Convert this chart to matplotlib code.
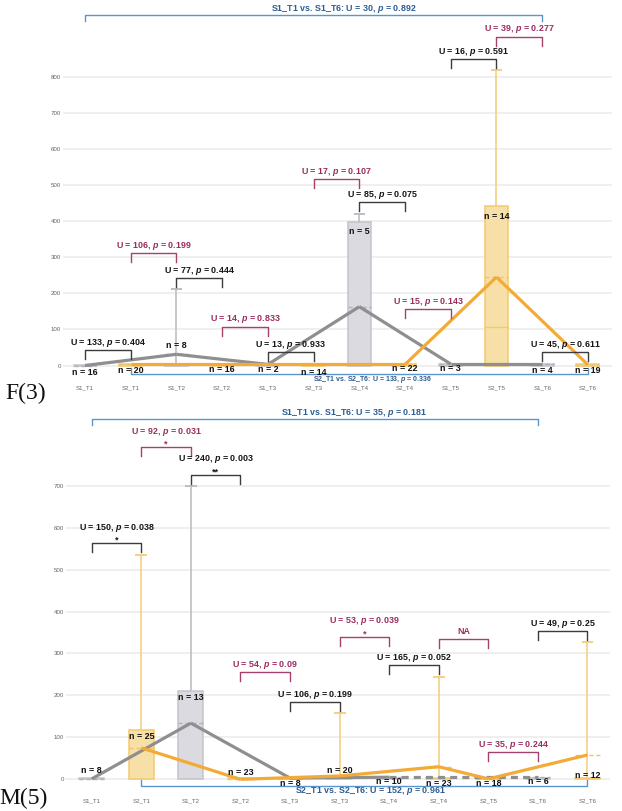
import matplotlib
matplotlib.use('Agg')
import matplotlib.pyplot as plt
import numpy as np

plt.rcParams['font.family'] = ['Liberation Sans', 'DejaVu Sans']
plt.rcParams['mathtext.fontset'] = 'custom'
plt.rcParams['mathtext.it'] = 'Liberation Sans:italic:bold'
plt.rcParams['mathtext.rm'] = 'Liberation Sans:bold'
plt.rcParams['mathtext.bf'] = 'Liberation Sans:bold'

NaN = np.nan

# ---------------- Panel F(3) data ----------------
f_cats = ['S1_T1', 'S2_T1', 'S1_T2', 'S2_T2', 'S1_T3', 'S2_T3',
          'S1_T4', 'S2_T4', 'S1_T5', 'S2_T5', 'S1_T6', 'S2_T6']
f_n = [16, 20, 8, 16, 2, 14, 5, 22, 3, 14, 4, 19]
f_q1 = [0, 0, 0, 0, 0, 0, 0, 0, 0, 0, 0, 0]
f_median = [0, 0, 0, 0, 0, 0, 0, 0, 0, 107, 0, 0]
f_q3 = [2, 3, 2, 3, 2, 3, 397, 3, 5, 442, 5, 3]
f_mean = [0, 3, 31, 3, 3, 3, 163, 3, 4, 245, 4, 2]
f_whisker = [NaN, NaN, 212, NaN, NaN, NaN, 419, NaN, NaN, 818, NaN, NaN]

# ---------------- Panel M(5) data ----------------
m_cats = ['S1_T1', 'S2_T1', 'S1_T2', 'S2_T2', 'S1_T3', 'S2_T3',
          'S1_T4', 'S2_T4', 'S2_T5', 'S1_T6', 'S2_T6']
m_n = [8, 25, 13, 23, 8, 20, 10, 23, 18, 6, 12]
m_q1 = [0, 0, 0, 0, 0, 0, 0, 0, 0, 0, 0]
m_median = [0, 0, 0, 0, 0, 0, 0, 0, 0, 0, 0]
m_q3 = [3, 117, 211, 2, 2, 3, 3, 3, 3, 3, 3]
m_mean = [1, 75, 134, 0, 3, 8, 5, 30, 1, 5, 58]
m_whisker = [NaN, 535, 700, NaN, NaN, 159, NaN, 245, NaN, NaN, 328]

# comparison results: (left idx, right idx, U, p, stars, kind)
f_tests = [
    (0, 1, '133', '0.404', '', 'k'),
    (1, 2, '106', '0.199', '', 'm'),
    (2, 3, '77', '0.444', '', 'k'),
    (3, 4, '14', '0.833', '', 'm'),
    (4, 5, '13', '0.933', '', 'k'),
    (5, 6, '17', '0.107', '', 'm'),
    (6, 7, '85', '0.075', '', 'k'),
    (7, 8, '15', '0.143', '', 'm'),
    (8, 9, '16', '0.591', '', 'k'),
    (9, 10, '39', '0.277', '', 'm'),
    (10, 11, '45', '0.611', '', 'k'),
]
f_bracket_y = [43, 311, 243, 107.5, 38, 516, 452, 156, 848, 911, 36.5]

m_tests = [
    (0, 1, '150', '0.038', '*', 'k'),
    (1, 2, '92', '0.031', '*', 'm'),
    (2, 3, '240', '0.003', '**', 'k'),
    (3, 4, '54', '0.09', '', 'm'),
    (4, 5, '106', '0.199', '', 'k'),
    (5, 6, '53', '0.039', '*', 'm'),
    (6, 7, '165', '0.052', '', 'k'),
    (7, 8, None, None, '', 'm'),
    (8, 9, '35', '0.244', '', 'm'),
    (9, 10, '49', '0.25', '', 'k'),
]
m_bracket_y = [563, 792, 726, 256, 185, 340, 273, 335, 64, 354]

# long-range comparisons
f_s1_long = ('S1_T1', 'S1_T6', '30', '0.892')
f_s2_long = ('S2_T1', 'S2_T6', '133', '0.336')
m_s1_long = ('S1_T1', 'S1_T6', '35', '0.181')
m_s2_long = ('S2_T1', 'S2_T6', '152', '0.961')

# layout (label positions in data units)
f_nlabel_y = [-19, -12.5, 55, -10.5, -10.5, -19, 370, -8, -8, 414, -12.5, -12.5]
m_nlabel_y = [20.5, 101.6, 195.5, 15.7, -11, 20.5, -5.7, -11, -11, -5.7, 8]

# ---------------- styling ----------------
W, H = 622, 811
fig = plt.figure(figsize=(W / 100, H / 100), dpi=100)

STY = {
    'S1': dict(fill='#dadae0', edge='#c3c3cb', whisk='#bdbdc4', line='#8f8f8f', mean='#b0b0b8'),
    'S2': dict(fill='#f7e0a8', edge='#f2c96e', whisk='#f4cf86', line='#f3aa36', mean='#eec36a'),
}
TXT = {'k': '#151515', 'm': '#9b2d5e', 'b': '#2e5d91'}
BRK = {'k': '#3c3c3c', 'm': '#a8406e', 'b': '#5b95cf'}
FS = 6.4


def px_axes(l, r, t, b):
    return fig.add_axes([l / W, 1 - b / H, (r - l) / W, (b - t) / H])


def draw_panel(ax, cats, n, q1, med, q3, mean, whi, nlab_y, tests, bys,
               s1_long, s2_long, xlim, ylim, ymax_tick, px_per_unit,
               s1_text_x, s2_text_x, s2_fs):
    ax.set_xlim(*xlim)
    ax.set_ylim(*ylim)
    for sp in ax.spines.values():
        sp.set_visible(False)
    ax.set_yticks(np.arange(0, ymax_tick + 1, 100))
    ax.yaxis.grid(True, color='#ebebeb', lw=1.1, zorder=0)
    ax.set_axisbelow(True)
    x = np.arange(len(cats))
    ax.set_xticks(x)
    ax.set_xticklabels(cats)
    ax.tick_params(axis='both', length=0, labelsize=4.4, labelcolor='#666666')
    ax.tick_params(axis='x', pad=2.2)
    ax.tick_params(axis='y', pad=1.6)
    groups = [c.split('_')[0] for c in cats]
    tpts = [int(c.split('_T')[1]) for c in cats]
    u = 1.0 / px_per_unit  # data units per pixel
    hw = 0.25
    for i in x:
        s = STY[groups[i]]
        ax.bar(i, max(q3[i] - q1[i], 0.1), bottom=q1[i], width=2 * hw,
               color=s['fill'], edgecolor=s['edge'], linewidth=1.1, zorder=2)
        if med[i] > 0:
            ax.hlines(med[i], i - hw, i + hw, color=s['edge'], lw=1.0, zorder=3)
        ax.hlines(mean[i], i - hw, i + hw, color=s['mean'], lw=1.0,
                  linestyles=(0, (3, 2)), zorder=3)
        if not np.isnan(whi[i]):
            ax.vlines(i, q3[i], whi[i], color=s['whisk'], lw=1.2, zorder=2)
            ax.hlines(whi[i], i - 0.12, i + 0.12, color=s['whisk'], lw=1.4, zorder=2)
    # mean lines
    for g in ['S1', 'S2']:
        idx = [i for i in x if groups[i] == g]
        for a, b in zip(idx[:-1], idx[1:]):
            ls = '-' if tpts[b] - tpts[a] == 1 else (0, (2.2, 1.6))
            ax.plot([a, b], [mean[a], mean[b]], color=STY[g]['line'], lw=2.3,
                    ls=ls, solid_capstyle='butt', zorder=4 if g == 'S2' else 3.5)
    # n labels
    for i in x:
        ax.text(i, nlab_y[i], f'n = {n[i]}', ha='center', va='center',
                fontsize=FS, fontweight='bold', color='#111111', zorder=6)
    # brackets
    leg = 9 * u
    for (a, b, U, p, stars, kind), y in zip(tests, bys):
        ax.plot([a, a, b, b], [y - leg, y, y, y - leg], color=BRK[kind], lw=1.0, zorder=5)
        label = 'NA' if U is None else f'U = {U}, $p$ = {p}'
        if stars:
            ax.text((a + b) / 2, y + 0.6 * u, stars, ha='center', va='baseline',
                    fontsize=FS, fontweight='bold', color=TXT[kind], zorder=6)
            ax.text((a + b) / 2, y + 15.5 * u, label, ha='center', va='center',
                    fontsize=FS, fontweight='bold', color=TXT[kind], zorder=6)
        else:
            ax.text((a + b) / 2, y + 7.2 * u, label, ha='center', va='center',
                    fontsize=FS, fontweight='bold', color=TXT[kind], zorder=6)
    # long brackets
    a = cats.index(s1_long[0]); b = cats.index(s1_long[1])
    y = s1_long[4]
    ax.plot([a, a, b, b], [y - 6 * u, y, y, y - 6 * u], color=BRK['b'], lw=1.0, zorder=5)
    ax.text(s1_text_x, y + 6 * u, f'{s1_long[0]} vs. {s1_long[1]}: U = {s1_long[2]}, $p$ = {s1_long[3]}',
            ha='center', va='center', fontsize=FS, fontweight='bold', color=TXT['b'], zorder=6)
    a = cats.index(s2_long[0]); b = cats.index(s2_long[1])
    y = s2_long[4]
    ax.plot([a, a, b, b], [y + 6 * u, y, y, y + 6 * u], color=BRK['b'], lw=1.0, zorder=5)
    ax.text(s2_text_x, y - 5.2 * u, f'{s2_long[0]} vs. {s2_long[1]}: U = {s2_long[2]}, $p$ = {s2_long[3]}',
            ha='center', va='center', fontsize=s2_fs, fontweight='bold', color=TXT['b'], zorder=6)


# top panel
axF = px_axes(63.3, 611.7, 3, 382)
draw_panel(axF, f_cats, f_n, f_q1, f_median, f_q3, f_mean, f_whisker, f_nlabel_y,
           f_tests, f_bracket_y,
           f_s1_long + (972,), f_s2_long + (-24.4,),
           xlim=(-0.475, 11.52), ylim=(-45.7, 1004.2), ymax_tick=800,
           px_per_unit=0.361, s1_text_x=5.66, s2_text_x=6.3, s2_fs=5.0)

# bottom panel
axM = px_axes(66, 610, 402, 795.5)
draw_panel(axM, m_cats, m_n, m_q1, m_median, m_q3, m_mean, m_whisker, m_nlabel_y,
           m_tests, m_bracket_y,
           m_s1_long + (858,), m_s2_long + (-16,),
           xlim=(-0.518, 10.454), ylim=(-38.6, 899.6), ymax_tick=700,
           px_per_unit=0.4194, s1_text_x=5.28, s2_text_x=5.63, s2_fs=FS)

fig.text(5 / W, 1 - 399 / H, 'F(3)', family='Liberation Serif', fontsize=17,
         ha='left', va='baseline', color='#111111')
fig.text(-1 / W, 1 - 804 / H, 'M(5)', family='Liberation Serif', fontsize=17,
         ha='left', va='baseline', color='#111111')

fig.savefig('out.png', dpi=100)
